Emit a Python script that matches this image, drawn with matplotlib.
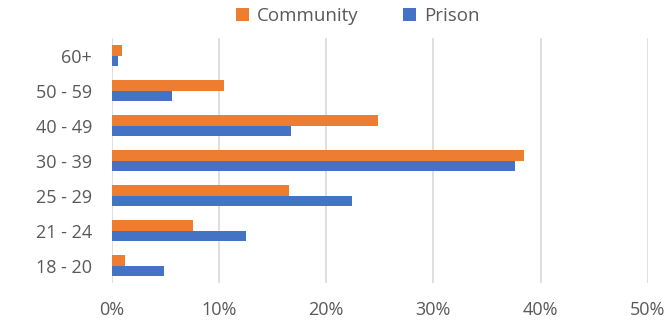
import matplotlib.pyplot as plt
import numpy as np

ages = ["18 - 20", "21 - 24", "25 - 29", "30 - 39", "40 - 49", "50 - 59", "60+"]
community = [1.3, 7.6, 16.5, 38.5, 24.8, 10.5, 1.0]
prison = [4.9, 12.5, 22.4, 37.6, 16.7, 5.6, 0.6]
xticks = [0, 10, 20, 30, 40, 50]

plt.rcParams['font.family'] = ['Open Sans', 'DejaVu Sans']
grey = '#595959'
fs = 13

fig = plt.figure(figsize=(6.72, 3.25), dpi=100)
ax = fig.add_axes([0.166, 0.129, 0.798, 0.754])

y = np.arange(len(ages))
h = 0.29
ax.barh(y + h / 2, community, height=h, color='#ed7d31', label='Community', zorder=3)
ax.barh(y - h / 2, prison, height=h, color='#4472c4', label='Prison', zorder=3)

ax.set_xlim(0, 50)
ax.set_ylim(-0.5, len(ages) - 0.5)
ax.set_xticks(xticks)
ax.set_xticklabels([f"{v}%" for v in xticks], color=grey, fontsize=fs)
ax.set_yticks(y)
ax.set_yticklabels(ages, color=grey, fontsize=fs)
ax.tick_params(length=0)
ax.tick_params(axis='x', pad=13)
ax.tick_params(axis='y', pad=14)
ax.grid(axis='x', color='#d9d9d9', linewidth=1.2, zorder=0)
for s in ax.spines.values():
    s.set_visible(False)

fig.legend(loc='upper center', bbox_to_anchor=(0.532, 1.03), ncol=2, frameon=False,
           fontsize=13.5, labelcolor=grey, handlelength=0.7, handleheight=0.7,
           handletextpad=0.4, columnspacing=2.4)

fig.savefig("out.png", dpi=100)
plt.close(fig)
